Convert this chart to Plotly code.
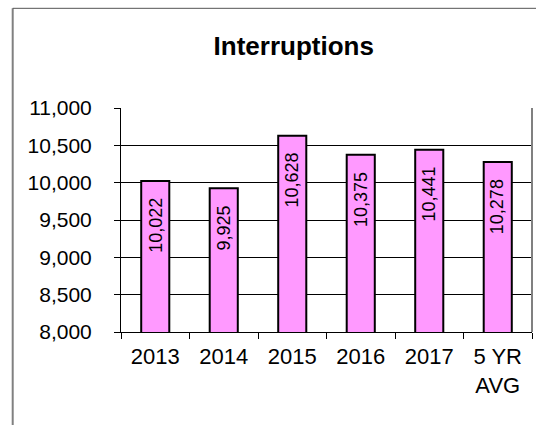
import plotly.graph_objects as go

# Annual interruption counts
categories = ["2013", "2014", "2015", "2016", "2017", "5 YR<br>AVG"]
interruptions = [10022, 9925, 10628, 10375, 10441, 10278]
value_labels = ["10,022", "9,925", "10,628", "10,375", "10,441", "10,278"]

y_min, y_max, y_step = 8000, 11000, 500

FONT = "Liberation Sans, Arial, sans-serif"

fig = go.Figure(
    go.Bar(
        x=categories,
        y=interruptions,
        marker=dict(color="#FF99FF", line=dict(color="black", width=2)),
        width=0.41,
        hoverinfo="skip",
    )
)

# Rotated value labels placed just below the top of each bar
# (category axis positions are given by index)
for i, (val, lab) in enumerate(zip(interruptions, value_labels)):
    fig.add_annotation(
        x=i, y=val, text=lab, textangle=-90,
        xanchor="center", yanchor="top", yshift=-15,
        showarrow=False, font=dict(family=FONT, size=18, color="black"),
    )

# Outer chart frame and right edge of the plot area
frame = "#808080"
fig.add_shape(type="line", xref="paper", yref="paper",
              x0=-0.2635, x1=-0.2635, y0=1.445, y1=-0.5,
              line=dict(color=frame, width=2))
fig.add_shape(type="line", xref="paper", yref="paper",
              x0=-0.2635, x1=1.2, y0=1.445, y1=1.445,
              line=dict(color="#555555", width=1))
fig.add_shape(type="line", xref="paper", yref="paper",
              x0=1, x1=1, y0=0, y1=1,
              line=dict(color=frame, width=2))

fig.update_layout(
    width=536, height=425,
    margin=dict(l=121, r=4, t=108, b=93),
    paper_bgcolor="white", plot_bgcolor="white",
    showlegend=False,
    font=dict(family=FONT, color="black"),
    title=dict(
        text="<b>Interruptions</b>",
        x=0.548, xanchor="center", y=0.892, yanchor="middle",
        font=dict(family=FONT, size=26, color="black"),
    ),
)

fig.update_xaxes(
    type="category",
    categoryorder="array", categoryarray=categories,
    range=[-0.5, len(categories) - 0.5],
    tickson="boundaries",
    ticks="outside", ticklen=6, tickcolor="black", tickwidth=1,
    showline=True, linecolor="black", linewidth=1,
    showgrid=False,
    tickangle=0,
    tickfont=dict(family=FONT, size=22, color="black"),
    ticklabelstandoff=5,
)

fig.update_yaxes(
    range=[y_min, y_max],
    tick0=y_min, dtick=y_step,
    tickformat=",",
    ticks="outside", ticklen=6, tickcolor="black", tickwidth=1,
    showline=True, linecolor="black", linewidth=1,
    showgrid=True, gridcolor="black", gridwidth=1,
    zeroline=False,
    tickfont=dict(family=FONT, size=21, color="black"),
    ticklabelstandoff=18,
)

fig.write_html("out.html")
